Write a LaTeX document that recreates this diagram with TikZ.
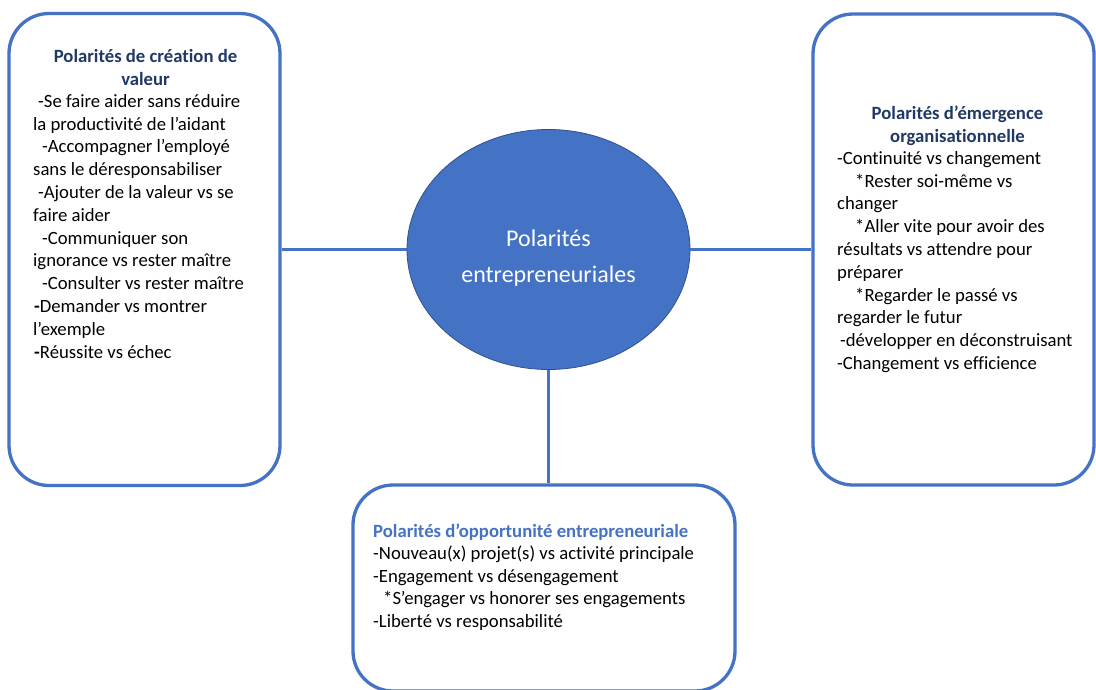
\documentclass[tikz,border=0pt]{standalone}
\usepackage{fontspec}
\setmainfont{Carlito}[Ligatures={NoCommon}]
\usetikzlibrary{shapes.geometric}
\definecolor{pblue}{HTML}{4472C4}
\definecolor{pnavy}{HTML}{1F3864}
\definecolor{pedge}{HTML}{2F528F}
\begin{document}
\begin{tikzpicture}[x=1pt,y=-1pt,
  pbox/.style={draw=pblue, line width=3.3pt, rounded corners=40pt, fill=white, inner sep=0pt},
  conn/.style={draw=pblue, line width=3.3pt},
  body/.style={anchor=north west, inner sep=0pt, align=left, font=\fontsize{18.7}{22.8}\selectfont},
  ttl/.style={anchor=north, inner sep=0pt, align=center, font=\fontsize{18.7}{22.8}\selectfont\bfseries, text=pnavy},
  hub/.style={ellipse, fill=pblue, draw=pedge, line width=0.8pt, inner sep=0pt},
  hubtext/.style={anchor=north, inner sep=0pt, align=center, text=white, font=\fontsize{24}{36.7}\selectfont}
  ]
\useasboundingbox (0,0) rectangle (1096,689);
\fill[white] (0,0) rectangle (1096,689);

\node[pbox, minimum width=271pt, minimum height=472pt] (L) at (144.5,249.5) {};
\node[pbox, minimum width=281pt, minimum height=471pt] (R) at (953.5,249.5) {};
\node[pbox, minimum width=382pt, minimum height=206pt] (B) at (544,588) {};
\node[hub, minimum width=283pt, minimum height=240pt] (C) at (548.5,249.5) {};

\draw[conn] (L.east) -- (C.west);
\draw[conn] (C.east) -- (R.west);
\draw[conn] (C.south) -- (C.south |- B.north);

\node[hubtext] (Ct) at (548.5,224) {\rule{0pt}{22pt}Polarités\\entrepreneuriales};

\node[ttl] (Lt) at (145.5,45) {\rule{0pt}{17pt}Polarités de création de\\valeur};
\node[body] (Lb) at (33,90) {\rule{0pt}{17pt}\hspace*{5pt}-Se faire aider sans réduire\\
la productivité de l’aidant\\
\hspace*{9pt}-Accompagner l’employé\\
sans le déresponsabiliser\\
\hspace*{5pt}-Ajouter de la valeur vs se\\
faire aider\\
\hspace*{9pt}-Communiquer son\\
ignorance vs rester maître\\
\hspace*{9pt}-Consulter vs rester maître\\
\hspace*{1pt}\textbf{-}Demander vs montrer\\
l’exemple\\
\hspace*{1pt}\textbf{-}Réussite vs échec};

\node[ttl] (Rt) at (957.5,102) {\rule{0pt}{17pt}Polarités d’émergence\\organisationnelle};
\node[body] (Rb) at (837,147) {\rule{0pt}{17pt}-Continuité vs changement\\
\hspace*{18pt}*Rester soi-même vs\\
changer\\
\hspace*{18pt}*Aller vite pour avoir des\\
résultats vs attendre pour\\
préparer\\
\hspace*{18pt}*Regarder le passé vs\\
regarder le futur\\
\hspace*{3pt}-développer en déconstruisant\\
-Changement vs efficience};

\node[body, font=\fontsize{18.7}{22.5}\selectfont] (Bb) at (373,520) {\rule{0pt}{17pt}{\bfseries\color{pblue}Polarités d’opportunité entrepreneuriale}\\
-Nouveau(x) projet(s) vs activité principale\\
-Engagement vs désengagement\\
\hspace*{10pt}*S’engager vs honorer ses engagements\\
-Liberté vs responsabilité};
\end{tikzpicture}
\end{document}
